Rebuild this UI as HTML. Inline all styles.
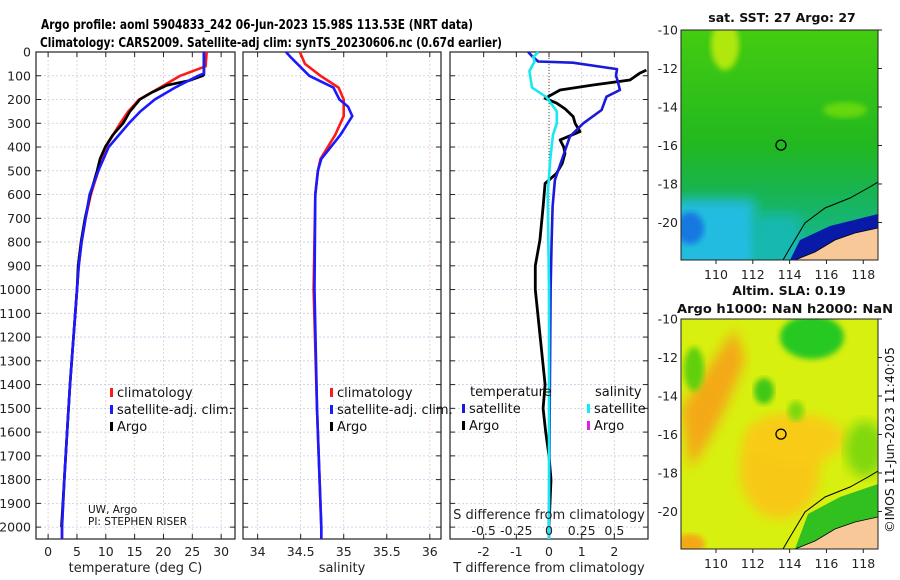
<!DOCTYPE html>
<html><head><meta charset="utf-8">
<style>
html,body{margin:0;padding:0;background:#fff;}
svg{display:block;font-family:"DejaVu Sans","Liberation Sans",sans-serif;}
</style></head>
<body>
<svg id="fig" width="900" height="580" viewBox="0 0 900 580" xmlns="http://www.w3.org/2000/svg">
<defs>
<filter id="blur4"><feGaussianBlur stdDeviation="6"/></filter>
<filter id="blur2"><feGaussianBlur stdDeviation="3"/></filter>
<clipPath id="clipMap1"><rect x="681" y="30" width="197" height="230"/></clipPath>
<clipPath id="clipMap2"><rect x="681" y="319" width="197" height="230"/></clipPath>
<linearGradient id="sstGrad" x1="0" y1="0" x2="0" y2="1">
<stop offset="0" stop-color="#44cc10"/><stop offset="0.5" stop-color="#22b820"/><stop offset="0.7" stop-color="#18b450"/><stop offset="1" stop-color="#14b8a0"/>
</linearGradient>
</defs>
<text x="41" y="29" font-size="13.5" font-weight="bold" textLength="432" lengthAdjust="spacingAndGlyphs">Argo profile: aoml 5904833_242 06-Jun-2023 15.98S 113.53E (NRT data)</text>
<text x="40" y="47" font-size="13.5" font-weight="bold" textLength="462" lengthAdjust="spacingAndGlyphs">Climatology: CARS2009. Satellite-adj clim: synTS_20230606.nc (0.67d earlier)</text>
<g id="charts"></g>
<g id="maps"></g>
</svg>
<script>
// ---- data (depth in m) ----
const argoDepth = [0,50,95,100,120,140,170,200,250,300,350,400,450,500,600,700,800,900,1000,1200,1400,1600,1800,2000];
const argoTemp  = [27.0,27.0,27.0,26.8,24.5,20.6,18.0,15.9,14.2,13.0,11.2,9.9,9.0,8.5,7.3,6.4,5.7,5.2,5.0,4.4,3.8,3.3,2.8,2.3];
const climDepth = [0,60,100,150,200,250,300,400,500,600,700,800,900,1000,1200,1400,1600,1800,2000,2050];
const climTemp  = [27.5,27.3,22.9,19.4,15.8,13.9,12.5,10.0,8.7,7.4,6.5,5.8,5.3,5.0,4.4,3.8,3.3,2.8,2.4,2.4];
const satDepth  = [0,90,100,150,200,250,300,400,500,600,700,800,900,1000,1200,1400,1600,1800,2000,2050];
const satTemp   = [27.0,27.0,26.0,22.0,18.5,16.0,14.0,10.5,8.7,7.2,6.5,5.8,5.3,5.0,4.4,3.8,3.3,2.8,2.4,2.4];
const climSalDepth = [0,50,100,150,200,270,350,450,500,600,1000,1500,2000,2050];
const climSal   = [34.49,34.55,34.73,34.94,35.0,35.0,34.9,34.73,34.7,34.67,34.65,34.69,34.74,34.74];
const satSalDepth = [0,20,100,150,200,230,270,350,450,500,600,1000,1500,2000,2050];
const satSal    = [34.33,34.38,34.6,34.88,34.95,35.05,35.1,34.96,34.74,34.7,34.67,34.66,34.69,34.74,34.74];
const dTsatDepth = [0,20,40,45,72,100,120,160,188,244,300,356,440,539,651,800,1000,1500,2000,2050];
const dTsat     = [-0.64,-0.5,-0.33,0.73,2.08,2.05,2.1,2.17,1.76,1.61,1.05,0.64,0.43,0.18,0.11,0.08,0.05,0.02,0.0,0.0];
const dTargoDepth = [76,89,118,139,160,195,215,240,272,300,335,370,400,427,470,511,553,651,792,900,1000,1200,1400,1500,1600,1700,1800,2000];
const dTargo    = [2.98,2.78,2.48,1.35,0.34,-0.12,0.23,0.5,0.74,0.8,0.95,0.34,0.45,0.49,0.4,0.23,-0.12,-0.18,-0.28,-0.42,-0.42,-0.27,-0.12,-0.18,-0.1,0.0,0.06,0.0];
const dSsatDepth = [0,20,40,80,150,190,250,300,350,450,600,1000,2000,2050];
const dSsat     = [-0.08,-0.12,-0.11,-0.15,-0.13,-0.02,0.06,0.06,0.03,0.01,-0.01,0.0,0.0,0.0];
const depthTicks = [0,100,200,300,400,500,600,700,800,900,1000,1100,1200,1300,1400,1500,1600,1700,1800,1900,2000];
const tempTicks = [0,5,10,15,20,25,30];
const salTicks = [34,34.5,35,35.5,36];
const salTickLabels = ["34","34.5","35","35.5","36"];
const dTTicks = [-2,-1,0,1,2];
const dSTicks = [-0.5,-0.25,0,0.25,0.5];
const dSTickLabels = ["-0.5","-0.25","0","0.25","0.5"];
const lonTicks = [110,112,114,116,118];
const latTicks = [-10,-12,-14,-16,-18,-20];

const NS = "http://www.w3.org/2000/svg";
const charts = document.getElementById('charts');
function el(tag, attrs, parent){const e=document.createElementNS(NS,tag);for(const k in attrs)e.setAttribute(k,attrs[k]);(parent||charts).appendChild(e);return e;}
const yTop=52, yBot=539, dMin=0, dMax=2050;
const yDepth = d => yTop + (d-dMin)/(dMax-dMin)*(yBot-yTop);
function xScale(x0,x1,v0,v1){return v=>x0+(v-v0)/(v1-v0)*(x1-x0);}

const panels = [
 {x0:36,x1:235,v0:-2.1,v1:32.4,ticks:tempTicks,labels:tempTicks.map(String),title:"temperature (deg C)",name:"temperature-panel",depthLabels:true},
 {x0:243,x1:441,v0:33.83,v1:36.13,ticks:salTicks,labels:salTickLabels,title:"salinity",name:"salinity-panel"},
 {x0:450,x1:648,v0:-3.03,v1:3.03,ticks:dTTicks,labels:dTTicks.map(String),title:"T difference from climatology",name:"difference-panel"}
];
panels.forEach(p=>{
  const g=el('g',{});
  
  
  const xs=xScale(p.x0,p.x1,p.v0,p.v1);
  p.xs=xs;
  depthTicks.forEach(d=>{
    const l=el('line',{x1:p.x0,x2:p.x1,y1:yDepth(d),y2:yDepth(d),stroke:"#c4cce8","stroke-width":0.8,"stroke-dasharray":"2,2"},g);
    
    
    el('line',{x1:p.x0,x2:p.x0+5,y1:yDepth(d),y2:yDepth(d),stroke:"#222"},g);
    el('line',{x1:p.x1-5,x2:p.x1,y1:yDepth(d),y2:yDepth(d),stroke:"#222"},g);
    if(p.depthLabels){
      const t=el('text',{x:p.x0-5,y:yDepth(d)+4.5,"font-size":12.5,"text-anchor":"end",fill:"#222"},g);
      t.textContent=d;
      
      
    }
  });
  p.ticks.forEach((v,i)=>{
    const x=xs(v);
    el('line',{x1:x,x2:x,y1:yTop,y2:yBot,stroke:"#e8c8c0","stroke-width":0.8,"stroke-dasharray":"2,2"},g);
    el('line',{x1:x,x2:x,y1:yTop,y2:yTop+5,stroke:"#222"},g);
    el('line',{x1:x,x2:x,y1:yBot-5,y2:yBot,stroke:"#222"},g);
    const t=el('text',{x:x,y:556,"font-size":12.5,"text-anchor":"middle",fill:"#222"},g);
    t.textContent=p.labels[i];
    
    
  });
  el('rect',{x:p.x0,y:yTop,width:p.x1-p.x0,height:yBot-yTop,fill:"none",stroke:"#222","stroke-width":1.2},g);
  const tt=el('text',{x:(p.x0+p.x1)/2,y:572,"font-size":13,"text-anchor":"middle",fill:"#222"},g);
  tt.textContent=p.title;
  
  
});
function line(xs,vals,depths,color,name,w){
  const pts=vals.map((v,i)=>xs(v).toFixed(1)+","+yDepth(depths[i]).toFixed(1)).join(" ");
  const pl=el('polyline',{points:pts,fill:"none",stroke:color,"stroke-width":w||2.6,"stroke-linejoin":"round"});
  
  
}
const P=panels;
line(P[0].xs,climTemp,climDepth,"#ff1a1a","clim-temperature-line");
line(P[0].xs,argoTemp,argoDepth,"#000","argo-temperature-line");
line(P[0].xs,satTemp,satDepth,"#1a1aff","sat-temperature-line");
line(P[1].xs,climSal,climSalDepth,"#ff1a1a","clim-salinity-line");
line(P[1].xs,satSal,satSalDepth,"#1a1aff","sat-salinity-line");
el('line',{x1:P[2].xs(0),x2:P[2].xs(0),y1:yTop,y2:yDepth(700),stroke:"#444","stroke-dasharray":"1,2"});
line(P[2].xs,dTargo,dTargoDepth,"#000","argo-t-diff-line",2.8);
line(P[2].xs,dTsat,dTsatDepth,"#1a1ad8","sat-t-diff-line",2.6);
const sxs = xScale(450,648,-3.03/4,3.03/4);
line(sxs,dSsat,dSsatDepth,"#18e8f0","sat-s-diff-line",2.6);
const sTitle=el('text',{x:549,y:519,"font-size":13,"text-anchor":"middle",fill:"#222"});
sTitle.textContent="S difference from climatology";


dSTicks.forEach((v,i)=>{
  const t=el('text',{x:sxs(v),y:535,"font-size":12.5,"text-anchor":"middle",fill:"#222"});
  t.textContent=dSTickLabels[i];
  
  
});
function legItem(x,y,color,label,name){
  const g=el('g',{});
  
  
  el('rect',{x:x,y:y-9,width:3,height:9,fill:color},g);
  const t=el('text',{x:x+7,y:y,"font-size":13,fill:"#111"},g);
  t.textContent=label;
}
legItem(110,397,"#ff1a1a","climatology","legend-climatology");
legItem(110,414,"#1a1aff","satellite-adj. clim.","legend-satellite-adj");
legItem(110,431,"#000","Argo","legend-argo");
legItem(330,397,"#ff1a1a","climatology","legend-climatology-2");
legItem(330,414,"#1a1aff","satellite-adj. clim.","legend-satellite-adj-2");
legItem(330,431,"#000","Argo","legend-argo-2");
const lt=el('text',{x:470,y:396,"font-size":13,fill:"#111"});lt.textContent="temperature";

const ls=el('text',{x:595,y:396,"font-size":13,fill:"#111"});ls.textContent="salinity";

legItem(462,413,"#1a1ad8","satellite","legend-t-satellite");
legItem(462,430,"#000","Argo","legend-t-argo");
legItem(587,413,"#18e8f0","satellite","legend-s-satellite");
legItem(587,430,"#e020e0","Argo","legend-s-argo");
const pi1=el('text',{x:88,y:513,"font-size":10.5,fill:"#111"});pi1.textContent="UW, Argo";

const pi2=el('text',{x:88,y:525,"font-size":10.5,fill:"#111"});pi2.textContent="PI: STEPHEN RISER";


// ---- maps ----
const maps=document.getElementById('maps');
function mel(tag,attrs,parent){const e=document.createElementNS(NS,tag);for(const k in attrs)e.setAttribute(k,attrs[k]);(parent||maps).appendChild(e);return e;}
const lonX = lon => 681 + (lon-108.1)/(118.8-108.1)*197;
function drawMap(top,clip,name,kind){
  const latY = lat => top + (-10-lat)/11.95*230;
  const g=mel('g',{});
  
  
  const c=mel('g',{"clip-path":"url(#"+clip+")"},g);
  if(kind==='sst'){
    mel('rect',{x:681,y:top,width:197,height:230,fill:"url(#sstGrad)"},c);
    mel('ellipse',{cx:725,cy:top+15,rx:14,ry:25,fill:"#b0e810",filter:"url(#blur2)"},c);
    mel('ellipse',{cx:845,cy:top+80,rx:22,ry:8,fill:"#66d810",filter:"url(#blur2)"},c);
    mel('rect',{x:675,y:latY(-18.8),width:80,height:140,fill:"#20bce0",filter:"url(#blur4)"},c);
    mel('ellipse',{cx:690,cy:latY(-20.3),rx:14,ry:16,fill:"#1878e0",filter:"url(#blur2)"},c);
    mel('rect',{x:755,y:latY(-19.6),width:45,height:130,fill:"#18b8b0",filter:"url(#blur4)"},c);
    mel('polygon',{points:"790,260 800,240 830,226 878,214 878,234 830,245 800,260",fill:"#0a1aa8"},c);
  } else {
    mel('rect',{x:681,y:top,width:197,height:230,fill:"#d8f010"},c);
    mel('path',{d:"M681 "+(top+90)+" Q700 "+(top+60)+" 735 "+(top+10)+" L745 "+(top+40)+" Q720 "+(top+110)+" 690 "+(top+150)+" Z",fill:"#f4a818",filter:"url(#blur4)"},c);
    mel('ellipse',{cx:780,cy:top+150,rx:40,ry:50,fill:"#f8c818",filter:"url(#blur4)"},c);
    mel('ellipse',{cx:795,cy:top+120,rx:50,ry:25,fill:"#f8cc18",filter:"url(#blur4)"},c);
    mel('ellipse',{cx:812,cy:top+18,rx:32,ry:22,fill:"#28c820",filter:"url(#blur2)"},c);
    mel('ellipse',{cx:694,cy:top+50,rx:10,ry:22,fill:"#60d010",filter:"url(#blur2)"},c);
    mel('ellipse',{cx:764,cy:top+72,rx:10,ry:13,fill:"#40c818",filter:"url(#blur2)"},c);
    mel('ellipse',{cx:796,cy:top+92,rx:8,ry:10,fill:"#80d810",filter:"url(#blur2)"},c);
    mel('ellipse',{cx:865,cy:top+130,rx:20,ry:28,fill:"#80d810",filter:"url(#blur4)"},c);
    mel('polygon',{points:"795,"+(top+230)+" 808,"+(top+195)+" 840,"+(top+178)+" 878,"+(top+165)+" 878,"+(top+230),fill:"#30c020"},c);
    mel('ellipse',{cx:690,cy:top+225,rx:15,ry:10,fill:"#f4a818",filter:"url(#blur2)"},c);
  }
  mel('polygon',{points:"795,"+(top+230)+" 815,"+(top+222)+" 835,"+(top+210)+" 855,"+(top+203)+" 878,"+(top+198)+" 878,"+(top+230),fill:"#f8c898",stroke:"#000","stroke-width":0.8},c);
  mel('polyline',{points:"783,"+(top+230)+" 790,"+(top+218)+" 805,"+(top+193)+" 825,"+(top+178)+" 850,"+(top+168)+" 868,"+(top+158)+" 878,"+(top+152),fill:"none",stroke:"#000","stroke-width":1},c);
  mel('circle',{cx:lonX(113.53),cy:latY(-15.98),r:5,fill:"none",stroke:"#000","stroke-width":1.3},g);
  mel('rect',{x:681,y:top,width:197,height:230,fill:"none",stroke:"#222","stroke-width":1},g);
  latTicks.forEach(l=>{
    const y=latY(l);
    mel('line',{x1:878,x2:882,y1:y,y2:y,stroke:"#222"},g);
    const t=mel('text',{x:678,y:y+4.5,"font-size":12.5,"text-anchor":"end",fill:"#222"},g);
    t.textContent=l;
    
    
  });
  lonTicks.forEach(l=>{
    const x=lonX(l);
    mel('line',{x1:x,x2:x,y1:top+230,y2:top+234,stroke:"#222"},g);
    const t=mel('text',{x:x,y:top+249,"font-size":12.5,"text-anchor":"middle",fill:"#222"},g);
    t.textContent=l;
    
    
  });
}
drawMap(30,'clipMap1','sst-map','sst');
drawMap(319,'clipMap2','sla-map','sla');
function mtext(x,y,txt,name,attrs){const t=mel('text',Object.assign({x:x,y:y,"font-size":13,"font-weight":"bold","text-anchor":"middle",fill:"#111"},attrs||{}));t.textContent=txt;return t;}
mtext(782,22,"sat. SST: 27 Argo: 27","sst-map-title",{"font-size":12.5});
mtext(789,295,"Altim. SLA: 0.19","sla-map-title",{"font-size":12.5});
mtext(785,313,"Argo h1000: NaN h2000: NaN","sla-map-subtitle",{"font-size":12.5,textLength:"216",lengthAdjust:"spacingAndGlyphs"});
mtext(0,0,"©IMOS 11-Jun-2023 11:40:05","imos-credit",{"font-weight":"normal","font-size":12.5,transform:"translate(894,440) rotate(-90)"});
</script>
</body></html>
